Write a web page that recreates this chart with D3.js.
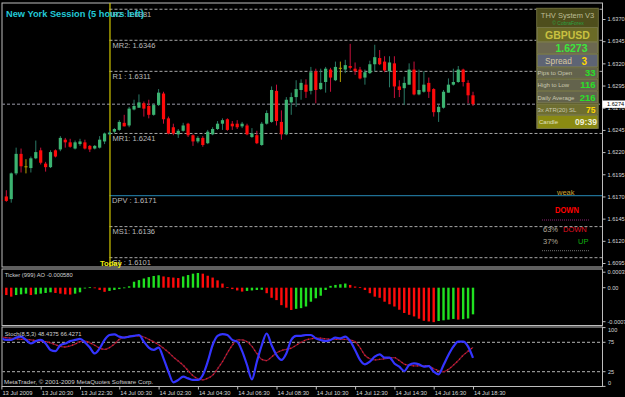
<!DOCTYPE html>
<html>
<head>
<meta charset="UTF-8">
<title>GBPUSD M15</title>
<script src="https://d3js.org/d3.v7.min.js"></script>
<style>
    body { margin: 0; background: #000; }
    svg { display: block; }
    text { font-family: "Liberation Sans", Arial, sans-serif; }
</style>
</head>
<body>
<svg id="chart" width="625" height="397"></svg>
<script>
// ローソク足 (M15, 13 Jul 18:30 - 14 Jul 18:30)
const opens  = [1.6166,1.6170,1.6167,1.6196,1.6218,1.6204,1.6202,1.6213,1.6222,1.6207,
                1.6203,1.6222,1.6223,1.6234,1.6231,1.6224,1.6229,1.6231,1.6227,1.6224,
                1.6225,1.6232,1.6240,1.6243,1.6245,1.6253,1.6250,1.6268,1.6270,1.6275,
                1.6272,1.6262,1.6273,1.6286,1.6258,1.6248,1.6240,1.6244,1.6252,1.6239,
                1.6232,1.6236,1.6230,1.6240,1.6246,1.6252,1.6257,1.6252,1.6252,1.6249,
                1.6250,1.6237,1.6239,1.6228,1.6252,1.6254,1.6289,1.6254,1.6240,1.6276,
                1.6282,1.6290,1.6296,1.6289,1.6311,1.6291,1.6299,1.6313,1.6301,1.6315,
                1.6313,1.6317,1.6314,1.6313,1.6304,1.6309,1.6319,1.6326,1.6322,1.6311,
                1.6320,1.6294,1.6292,1.6296,1.6313,1.6285,1.6288,1.6298,1.6291,1.6265,
                1.6270,1.6287,1.6296,1.6299,1.6313,1.6298,1.6284];
const highs  = [1.6175,1.6177,1.6197,1.6225,1.6224,1.6212,1.6215,1.6233,1.6225,1.6209,
                1.6222,1.6223,1.6238,1.6236,1.6235,1.6233,1.6235,1.6234,1.6228,1.6228,
                1.6238,1.6242,1.6244,1.6247,1.6256,1.6262,1.6271,1.6279,1.6285,1.6277,
                1.6279,1.6275,1.6291,1.6288,1.6260,1.6252,1.6246,1.6253,1.6253,1.6240,
                1.6238,1.6238,1.6245,1.6248,1.6255,1.6258,1.6258,1.6255,1.6256,1.6254,
                1.6252,1.6247,1.6244,1.6254,1.6267,1.6294,1.6296,1.6267,1.6282,1.6287,
                1.6301,1.6302,1.6302,1.6316,1.6314,1.6314,1.6316,1.6315,1.6322,1.6322,
                1.6324,1.6342,1.6321,1.6316,1.6313,1.6323,1.6341,1.6335,1.6328,1.6328,
                1.6328,1.6301,1.6305,1.6320,1.6322,1.6313,1.6311,1.6304,1.6292,1.6273,
                1.6290,1.6303,1.6314,1.6317,1.6314,1.6301,1.6288];
const lows   = [1.6152,1.6164,1.6163,1.6194,1.6197,1.6196,1.6197,1.6212,1.6206,1.6198,
                1.6202,1.6214,1.6221,1.6225,1.6225,1.6223,1.6227,1.6223,1.6220,1.6223,
                1.6224,1.6229,1.6239,1.6241,1.6244,1.6249,1.6248,1.6267,1.6270,1.6260,
                1.6258,1.6261,1.6272,1.6252,1.6240,1.6239,1.6236,1.6243,1.6237,1.6227,
                1.6230,1.6226,1.6229,1.6239,1.6245,1.6245,1.6244,1.6245,1.6246,1.6247,
                1.6239,1.6236,1.6229,1.6227,1.6251,1.6253,1.6250,1.6234,1.6239,1.6262,
                1.6271,1.6279,1.6281,1.6285,1.6275,1.6290,1.6287,1.6288,1.6300,1.6299,
                1.6309,1.6313,1.6307,1.6302,1.6296,1.6308,1.6311,1.6318,1.6310,1.6293,
                1.6281,1.6282,1.6273,1.6296,1.6284,1.6284,1.6287,1.6281,1.6260,1.6254,
                1.6269,1.6287,1.6295,1.6298,1.6294,1.6275,1.6272];
const closes = [1.6165,1.6165,1.6196,1.6218,1.6204,1.6204,1.6213,1.6220,1.6208,1.6203,
                1.6220,1.6215,1.6236,1.6231,1.6226,1.6231,1.6232,1.6224,1.6223,1.6227,
                1.6234,1.6241,1.6242,1.6246,1.6254,1.6249,1.6269,1.6272,1.6276,1.6269,
                1.6262,1.6273,1.6287,1.6257,1.6241,1.6241,1.6244,1.6250,1.6239,1.6232,
                1.6236,1.6228,1.6243,1.6246,1.6252,1.6256,1.6245,1.6249,1.6248,1.6252,
                1.6240,1.6241,1.6230,1.6252,1.6264,1.6290,1.6255,1.6240,1.6279,1.6282,
                1.6291,1.6298,1.6288,1.6310,1.6290,1.6298,1.6314,1.6304,1.6316,1.6315,
                1.6318,1.6315,1.6311,1.6303,1.6310,1.6319,1.6327,1.6319,1.6312,1.6321,
                1.6294,1.6290,1.6298,1.6313,1.6285,1.6290,1.6296,1.6288,1.6265,1.6271,
                1.6288,1.6296,1.6299,1.6313,1.6299,1.6284,1.6274];

// Awesome Oscillator
const aoValues = [-0.000145,-0.000160,-0.000195,-0.000160,-0.000145,-0.000130,-0.000160,-0.000145,-0.000130,-0.000115,
                  -0.000100,-0.000115,-0.000130,-0.000145,-0.000150,-0.000130,-0.000100,-0.000015,0.000010,0.000005,
                  -0.000050,-0.000090,-0.000070,-0.000050,-0.000030,0.000005,0.000030,0.000130,0.000165,0.000200,
                  0.000230,0.000255,0.000270,0.000245,0.000230,0.000220,0.000210,0.000245,0.000275,0.000305,
                  0.000320,0.000305,0.000260,0.000220,0.000160,0.000090,0.000010,-0.000030,-0.000060,-0.000085,
                  -0.000070,-0.000060,-0.000050,-0.000045,-0.000120,-0.000220,-0.000270,-0.000380,-0.000435,-0.000485,
                  -0.000460,-0.000445,-0.000410,-0.000305,-0.000230,-0.000175,-0.000050,0.000040,0.000060,0.000075,
                  0.000090,0.000060,0.000025,0.000010,-0.000050,-0.000120,-0.000195,-0.000220,-0.000305,-0.000360,
                  -0.000410,-0.000480,-0.000550,-0.000590,-0.000625,-0.000675,-0.000720,-0.000735,-0.000750,-0.000725,
                  -0.000710,-0.000695,-0.000680,-0.000695,-0.000685,-0.000670,-0.000580];

// Stochastic(8,5,3)
const stochMain = [81.7,79,79,83,84.6,79,73,77,79,73,
                   62,60,70,73,77,79,80.7,75,66,56,
                   64.7,79,87.4,88.5,84.6,83,84.6,86,87.4,76,
                   66,62,66,47.7,25,7,11,16.5,13.7,11,
                   11,19.5,42,70.4,86,89,87.4,79,76,60,
                   36.4,12,42,70,90,70,53.4,45,56,79,
                   86,86,87.4,87.4,81.7,79,77,79,83,81.7,
                   84.6,77,62,45,37.5,42,50.5,54.5,49,49,
                   39,33.5,26,36.4,39,37.5,33.5,34.6,25,20.5,
                   36.4,53.4,67.6,76,76,67.6,48.4375];
const stochSignal = [84,83,82,81,80,80,79,78,77,76,
                     74,71,68,67,69,72,76,77,74,70,
                     65,63,66,72,80,84,85,86,86,84,
                     80,76,71,65,58,50,43,36,27,18,
                     13,11,14,19,30,42,57,70,79,79,
                     76,68,56,46,44,50,57,61,63,65,
                     70,75,79,81,82,82,81,80,80,80,
                     80,79,76,66,53,47,45,46,47,48,
                     49,44,38,36,35,35,35,35,30,27,
                     25,29,36,44,53,60,66.4271];

// 軸ラベル
const timeLabels = ["13 Jul 2009","13 Jul 20:30","13 Jul 22:30","14 Jul 00:30","14 Jul 02:30","14 Jul 04:30",
                    "14 Jul 06:30","14 Jul 08:30","14 Jul 10:30","14 Jul 12:30","14 Jul 14:30","14 Jul 16:30","14 Jul 18:30"];
const timeTickBars = [0,8,16,24,32,40,48,56,64,72,80,88,96];
const priceTicks = [1.6370,1.6345,1.6320,1.6295,1.6270,1.6245,1.6220,1.6195,1.6170,1.6145,1.6120,1.6095];
const aoTicks = [0.000337, 0, -0.00074];
const aoTickLabels = ["0.000337","0.00","-0.00074"];
const stochTicks = [100, 75, 25, 0];

// ピボット
const pivotNames  = ["R2 ","MR2","R1 ","MR1","DPV ","MS1","S1 "];
const pivotValues = [1.6381,1.6346,1.6311,1.6241,1.6171,1.6136,1.6101];
const bidPrice = 1.6274;
const todayBar = 22;

// パネル
const panelLabels = ["Pips to Open","High to Low","Daily Average","3x ATR(20) SL"];
const panelValues = ["33","116","216","75"];

const svg = d3.select("#chart");
svg.append("rect").attr("width", 625).attr("height", 397).attr("fill", "#000");

const x = d3.scaleLinear().domain([0, 96]).range([1.4, 473]);
const yP = d3.scaleLinear().domain([1.6095, 1.6370]).range([263, 19]);
const yAO = d3.scaleLinear().domain([-0.00074, 0.000337]).range([321.7, 272.2]);
const yS = d3.scaleLinear().domain([0, 100]).range([386.4, 327.6]);

const defs = svg.append("defs");
[["clipMain", 3, 264], ["clipAO", 269.5, 56], ["clipSt", 327.5, 59]].forEach(c => {
    defs.append("clipPath").attr("id", c[0]).append("rect")
        .attr("x", 2.5).attr("y", c[1]).attr("width", 599.5).attr("height", c[2]);
});

// 枠
const frameColor = "#bdbdbd";
[[3, 267], [269, 325.5], [327, 386.5]].forEach(f => {
    svg.append("rect").attr("x", 2).attr("y", f[0]).attr("width", 600.5).attr("height", f[1] - f[0])
        .attr("fill", "none").attr("stroke", frameColor).attr("stroke-width", 1);
});

// ===== メインチャート =====
const main = svg.append("g").attr("clip-path", "url(#clipMain)");

// bid line
main.append("line").attr("x1", 2).attr("x2", 602).attr("y1", yP(bidPrice)).attr("y2", yP(bidPrice))
    .attr("stroke", "#9a9aa8").attr("stroke-dasharray", "3,2");

// pivot lines
pivotValues.forEach((v, i) => {
    const isDpv = pivotNames[i].trim() === "DPV";
    main.append("line").attr("x1", x(todayBar)).attr("x2", 602).attr("y1", yP(v)).attr("y2", yP(v))
        .attr("stroke", isDpv ? "#1f6f94" : "#a8a8a8")
        .attr("stroke-width", isDpv ? 1.3 : 1)
        .attr("stroke-dasharray", isDpv ? null : "3,2");
    main.append("text").attr("x", isDpv ? 112 : 112.5).attr("y", yP(v) + 7.3)
        .attr("font-size", 7.5).attr("fill", "#bcbcbc")
        .text(pivotNames[i] + ": " + v.toFixed(4));
});

// Today line
main.append("line").attr("x1", x(todayBar) + 0.5).attr("x2", x(todayBar) + 0.5).attr("y1", 3).attr("y2", 267)
    .attr("stroke", "#d2c800").attr("stroke-width", 1.2);

// candles
const candles = main.selectAll("g.candle").data(d3.range(opens.length)).join("g");
const candleColor = i => closes[i] > opens[i] ? "#3cb371" : (closes[i] < opens[i] ? "#ff0a0a" : "#b8a000");
const wickColor = i => closes[i] > opens[i] ? "#2a7a66" : (closes[i] < opens[i] ? "#c8103c" : "#b8a000");
candles.append("line")
    .attr("x1", i => x(i)).attr("x2", i => x(i))
    .attr("y1", i => yP(highs[i])).attr("y2", i => yP(lows[i]))
    .attr("stroke", wickColor).attr("stroke-width", 1);
candles.append("rect")
    .attr("x", i => x(i) - 1.6).attr("width", 3.2)
    .attr("y", i => yP(Math.max(opens[i], closes[i])))
    .attr("height", i => Math.max(1, Math.abs(yP(opens[i]) - yP(closes[i]))))
    .attr("fill", candleColor);

// title
svg.append("text").attr("x", 6).attr("y", 17.3).attr("font-size", 8.6).attr("font-weight", "bold")
    .attr("fill", "#22c8d6").attr("textLength", 138).attr("lengthAdjust", "spacingAndGlyphs")
    .text("New York Session (5 hours left)");

svg.append("text").attr("x", 100).attr("y", 266).attr("font-size", 7.6).attr("font-weight", "bold")
    .attr("fill", "#eeee10").text("Today");

// signals
svg.append("text").attr("x", 557).attr("y", 195).attr("font-size", 7.5).attr("fill", "#d0a030").text("weak");
svg.append("text").attr("x", 555).attr("y", 212.5).attr("font-size", 8.5).attr("font-weight", "bold")
    .attr("fill", "#ff0000").attr("textLength", 24).attr("lengthAdjust", "spacingAndGlyphs").text("DOWN");
svg.append("line").attr("x1", 542).attr("x2", 590).attr("y1", 220).attr("y2", 220)
    .attr("stroke", "#8c2070").attr("stroke-dasharray", "1,1");
svg.append("text").attr("x", 543).attr("y", 231.7).attr("font-size", 7.5).attr("fill", "#b0a898").text("63%");
svg.append("text").attr("x", 563).attr("y", 231.7).attr("font-size", 7.5).attr("fill", "#e01020").text("DOWN");
svg.append("text").attr("x", 543).attr("y", 244.3).attr("font-size", 7.5).attr("fill", "#b0a898").text("37%");
svg.append("text").attr("x", 578).attr("y", 244.3).attr("font-size", 7.5).attr("fill", "#10b010").text("UP");
svg.append("line").attr("x1", 542).attr("x2", 590).attr("y1", 250.7).attr("y2", 250.7)
    .attr("stroke", "#707070").attr("stroke-dasharray", "1,1");

// info panel
const panel = svg.append("g");
panel.append("rect").attr("x", 536.7).attr("y", 8.3).attr("width", 61.6).attr("height", 120)
    .attr("fill", "#4e4e1c").attr("stroke", "#6c6c3c");
const rowBands = [[27.5, 41.7, "#6a6a26"], [42.5, 53.5, "#6c6850"], [54.5, 66.8, "#5e6474"],
                  [67.8, 78.2, "#63634c"], [79.4, 90.4, "#63634c"], [91.6, 102.8, "#63634c"],
                  [104, 114.5, "#6e6e30"], [115.5, 128.3, "#8a8a12"]];
rowBands.forEach(b => {
    panel.append("rect").attr("x", 537.5).attr("y", b[0]).attr("width", 60).attr("height", b[1] - b[0])
        .attr("fill", b[2]).attr("stroke", "#84845a").attr("stroke-width", 0.6);
});
panel.append("text").attr("x", 567.5).attr("y", 17.7).attr("text-anchor", "middle").attr("font-size", 7.5)
    .attr("fill", "#bcbc94").text("THV System V3");
panel.append("text").attr("x", 568).attr("y", 24.8).attr("text-anchor", "middle").attr("font-size", 5)
    .attr("fill", "#2aa040").text("© CobraForex");
panel.append("text").attr("x", 567.5).attr("y", 39.3).attr("text-anchor", "middle").attr("font-size", 10.5)
    .attr("font-weight", "bold").attr("fill", "#c8c040").text("GBPUSD");
panel.append("text").attr("x", 571.5).attr("y", 51.7).attr("text-anchor", "middle").attr("font-size", 10.5)
    .attr("font-weight", "bold").attr("fill", "#3ce63c").text("1.6273");
panel.append("text").attr("x", 545).attr("y", 64).attr("font-size", 8.3).attr("fill", "#d8c8a0").text("Spread");
panel.append("text").attr("x", 581.5).attr("y", 64.5).attr("font-size", 10).attr("font-weight", "bold")
    .attr("fill", "#ffd700").text("3");
const rowBase = [75, 87.3, 100, 111.7];
panelLabels.forEach((t, i) => {
    panel.append("text").attr("x", 537.5).attr("y", rowBase[i]).attr("font-size", 6)
        .attr("fill", "#c8c8b0").text(t);
    panel.append("text").attr("x", 595.5).attr("y", rowBase[i] + 0.8).attr("text-anchor", "end")
        .attr("font-size", i === 3 ? 8.5 : 9.5).attr("font-weight", "bold")
        .attr("fill", i === 3 ? "#ffd700" : "#28e028").text(panelValues[i]);
});
panel.append("text").attr("x", 539).attr("y", 124).attr("font-size", 6).attr("fill", "#e0e0c0").text("Candle");
panel.append("text").attr("x", 597).attr("y", 124.5).attr("text-anchor", "end").attr("font-size", 8.6)
    .attr("font-weight", "bold").attr("fill", "#f0f0d8").text("09:39");

// price axis
const pAxis = svg.append("g").attr("transform", "translate(602.5,0)")
    .call(d3.axisRight(yP).tickValues(priceTicks).tickSize(3).tickPadding(2).tickFormat(d3.format(".4f")));
pAxis.select(".domain").remove();
pAxis.selectAll("line").attr("stroke", frameColor);
pAxis.selectAll("text").attr("fill", "#d8d8d8").attr("font-size", 5.6).attr("font-family", "Liberation Sans, Arial, sans-serif");

// current price box
svg.append("rect").attr("x", 602.5).attr("y", yP(bidPrice) - 3.7).attr("width", 23).attr("height", 7.4).attr("fill", "#fff");
svg.append("text").attr("x", 607).attr("y", yP(bidPrice) + 2).attr("font-size", 5.6).attr("fill", "#000")
    .text(bidPrice.toFixed(4));

// ===== AO =====
const ao = svg.append("g").attr("clip-path", "url(#clipAO)");
ao.selectAll("rect").data(aoValues).join("rect")
    .attr("x", (d, i) => x(i) - 1.2).attr("width", 2.4)
    .attr("y", d => Math.min(yAO(d), yAO(0)))
    .attr("height", d => Math.max(0.8, Math.abs(yAO(d) - yAO(0))))
    .attr("fill", (d, i) => (i > 0 && d > aoValues[i - 1]) ? "#20e020" : "#ff0a0a");
svg.append("text").attr("x", 4.7).attr("y", 277.3).attr("font-size", 5.8).attr("fill", "#d0d0d0")
    .text("Ticker (999) AO " + aoValues[aoValues.length - 1].toFixed(6));
aoTicks.forEach((t, i) => {
    svg.append("line").attr("x1", 602.5).attr("x2", 605.5).attr("y1", yAO(t)).attr("y2", yAO(t)).attr("stroke", frameColor);
    svg.append("text").attr("x", 607.5).attr("y", yAO(t) + 2).attr("font-size", 5.6).attr("fill", "#d8d8d8")
        .text(aoTickLabels[i]);
});

// ===== Stochastic =====
const st = svg.append("g").attr("clip-path", "url(#clipSt)");
[75, 25].forEach(l => {
    st.append("line").attr("x1", 2).attr("x2", 602).attr("y1", yS(l)).attr("y2", yS(l))
        .attr("stroke", "#b4b4b4").attr("stroke-dasharray", "3,2");
});
const line = d3.line().x((d, i) => x(i)).y(d => yS(d)).curve(d3.curveMonotoneX);
st.append("path").datum(stochSignal).attr("d", line).attr("fill", "none")
    .attr("stroke", "#7a1a3a").attr("stroke-width", 1.3);
st.append("path").datum(stochSignal).attr("d", line).attr("fill", "none")
    .attr("stroke", "#ff1a1a").attr("stroke-width", 1.3).attr("stroke-dasharray", "1,3");
st.append("path").datum(stochMain).attr("d", line).attr("fill", "none")
    .attr("stroke", "#3434ff").attr("stroke-width", 2.2);
svg.append("text").attr("x", 4.7).attr("y", 335.7).attr("font-size", 5.8).attr("fill", "#d0d0d0")
    .text("Stoch(8,5,3) " + stochMain[stochMain.length - 1].toFixed(4) + " " + stochSignal[stochSignal.length - 1].toFixed(4));
stochTicks.forEach(t => {
    svg.append("line").attr("x1", 602.5).attr("x2", 605.5).attr("y1", yS(t)).attr("y2", yS(t)).attr("stroke", frameColor);
    svg.append("text").attr("x", 608).attr("y", yS(t) + (t === 100 ? 4.5 : t === 0 ? -1.5 : 2)).attr("font-size", 5.6)
        .attr("fill", "#d8d8d8").text(t);
});
svg.append("text").attr("x", 4).attr("y", 384).attr("font-size", 6.2).attr("fill", "#d0d0d0")
    .text("MetaTrader, © 2001-2009 MetaQuotes Software Corp.");

// time axis
const tAxis = svg.append("g").attr("transform", "translate(0,386.5)")
    .call(d3.axisBottom(x).tickValues(timeTickBars).tickSize(3).tickPadding(1.5)
        .tickFormat((d, i) => timeLabels[i]));
tAxis.select(".domain").remove();
tAxis.selectAll("line").attr("stroke", frameColor);
tAxis.selectAll("text").attr("text-anchor", "start").attr("dx", 0.5).attr("fill", "#d8d8d8")
    .attr("font-size", 5.8).attr("font-family", "Liberation Sans, Arial, sans-serif");
</script>
</body>
</html>
